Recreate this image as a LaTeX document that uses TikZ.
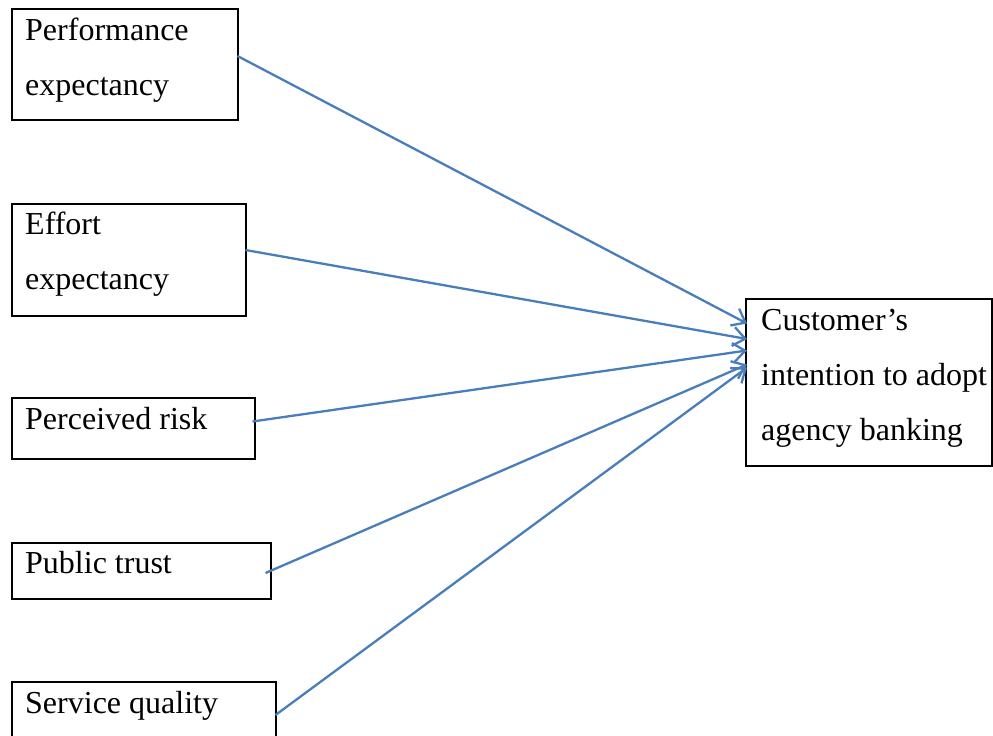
\documentclass[tikz,border=0pt]{standalone}
\usepackage{fontspec}
\setmainfont{Liberation Serif}
\usetikzlibrary{arrows.meta,calc}
\definecolor{arrowblue}{RGB}{74,126,187}
\tikzset{
  box/.style={draw=black, line width=2pt, inner sep=0pt, outer sep=0pt, anchor=north west},
  lbl/.style={anchor=base west, inner sep=0pt, font=\fontsize{32}{55}\selectfont},
  conn/.style={draw=arrowblue, line width=2.3pt, -{Straight Barb[length=12pt,width=19pt,line width=2.3pt]}}
}
\begin{document}
\begin{tikzpicture}[x=1pt,y=-1pt]
\useasboundingbox (0,0) rectangle (993,736);
% boxes
\node[box, minimum width=226pt, minimum height=111pt] (pe) at (11.5,8.5) {};
\node[box, minimum width=234pt, minimum height=112pt] (ee) at (11.5,204) {};
\node[box, minimum width=243pt, minimum height=61pt] (pr) at (11.5,398) {};
\node[box, minimum width=259pt, minimum height=56pt] (pt) at (11.5,543) {};
\node[box, minimum width=264pt, minimum height=80pt] (sq) at (11.5,682) {};
\node[box, minimum width=246pt, minimum height=167pt] (ci) at (745.5,299) {};
% labels
\node[lbl] (t1a) at (25,40) {Performance};
\node[lbl] (t1b) at (25,95) {expectancy};
\node[lbl] (t2a) at (25,234.5) {Effort};
\node[lbl] (t2b) at (25,289.5) {expectancy};
\node[lbl] (t3) at (25,429) {Perceived risk};
\node[lbl] (t4) at (25,573) {Public trust};
\node[lbl] (t5) at (25,713) {Service quality};
\node[lbl] (tc1) at (761,330) {Customer’s};
\node[lbl] (tc2) at (761,385) {intention to adopt};
\node[lbl] (tc3) at (761,440) {agency banking};
% connectors
\draw[conn] ([yshift=8pt]pe.east) -- ([yshift=59pt,xshift=1.5pt]ci.west);
\draw[conn] ([yshift=10pt]ee.east) -- ([yshift=43.5pt,xshift=1.5pt]ci.west);
\draw[conn] ([yshift=7pt,xshift=-2pt]pr.east) -- ([yshift=32pt,xshift=1.5pt]ci.west);
\draw[conn] ([yshift=-2pt,xshift=-5pt]pt.east) -- ([yshift=18pt,xshift=1.5pt]ci.west);
\draw[conn] ([yshift=7pt]sq.east) -- ([yshift=15pt,xshift=1.5pt]ci.west);
\end{tikzpicture}
\end{document}
